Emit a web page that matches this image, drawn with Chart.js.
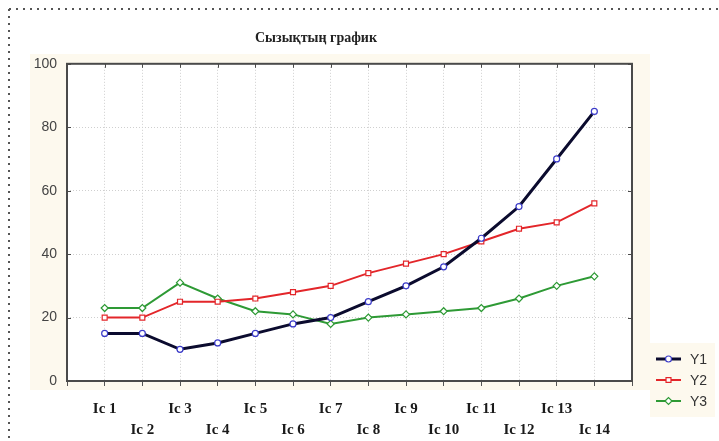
<!DOCTYPE html>
<html>
<head>
<meta charset="utf-8">
<script src="https://cdn.jsdelivr.net/npm/chart.js@4"></script>
<style>
  html, body { margin: 0; padding: 0; background: #fff; }
  canvas { display: block; }
</style>
</head>
<body>
<canvas id="chart" width="719" height="441"></canvas>
<script>
'use strict';

// data
let categories = ['Ic 1', 'Ic 2', 'Ic 3', 'Ic 4', 'Ic 5', 'Ic 6', 'Ic 7', 'Ic 8', 'Ic 9', 'Ic 10', 'Ic 11', 'Ic 12', 'Ic 13', 'Ic 14'];
let y1Values = [15, 15, 10, 12, 15, 18, 20, 25, 30, 36, 45, 55, 70, 85];
let y2Values = [20, 20, 25, 25, 26, 28, 30, 34, 37, 40, 44, 48, 50, 56];
let y3Values = [23, 23, 31, 26, 22, 21, 18, 20, 21, 22, 23, 26, 30, 33];
let yTicks = [0, 20, 40, 60, 80, 100];
let titleText = 'Сызықтың график';

const cream = '#fdf9ee';

function toPoints(values) {
    return values.map((v, i) => ({ x: i + 1, y: v }));
}

let seriesList = [
    { label: 'Y1', data: y1Values, line: '#0b0b2e', point: '#3b3bc8', style: 'circle', width: 3, radius: 3 },
    { label: 'Y2', data: y2Values, line: '#e3262a', point: '#e3262a', style: 'rect', width: 2, radius: 3.5 },
    { label: 'Y3', data: y3Values, line: '#2e9a35', point: '#2e9a35', style: 'rectRot', width: 2, radius: 3.5 }
];

// background, dotted page frame, plot frame
const backdrop = {
    id: 'backdrop',
    beforeDraw(chart) {
        const ctx = chart.ctx;
        const a = chart.chartArea;
        ctx.save();
        ctx.fillStyle = cream;
        ctx.fillRect(30, 54, 620, 336);
        ctx.fillStyle = '#ffffff';
        ctx.fillRect(a.left, a.top, a.right - a.left, a.bottom - a.top);

        ctx.strokeStyle = '#555';
        ctx.lineWidth = 2;
        ctx.setLineDash([2, 5]);
        ctx.beginPath();
        ctx.moveTo(9, 9);
        ctx.lineTo(719, 9);
        ctx.moveTo(9, 9);
        ctx.lineTo(9, 441);
        ctx.stroke();
        ctx.restore();
    },
    beforeDatasetsDraw(chart) {
        const ctx = chart.ctx;
        const a = chart.chartArea;
        ctx.save();
        ctx.strokeStyle = '#4a4a4a';
        ctx.lineWidth = 2;
        ctx.strokeRect(a.left, a.top, a.right - a.left, a.bottom - a.top);
        // small tick marks along the top and right edges
        ctx.lineWidth = 1;
        ctx.beginPath();
        for (let i = 1; i <= categories.length; i++) {
            const x = Math.round(chart.scales.x.getPixelForValue(i)) + 0.5;
            ctx.moveTo(x, a.top);
            ctx.lineTo(x, a.top + 4);
        }
        yTicks.forEach(t => {
            const y = Math.round(chart.scales.y.getPixelForValue(t)) + 0.5;
            ctx.moveTo(a.right, y);
            ctx.lineTo(a.right - 4, y);
            ctx.moveTo(a.left, y);
            ctx.lineTo(a.left + 4, y);
        });
        ctx.stroke();
        ctx.restore();
    }
};

// legend box at lower right
const sideLegend = {
    id: 'sideLegend',
    afterDraw(chart) {
        const ctx = chart.ctx;
        ctx.save();
        ctx.fillStyle = cream;
        ctx.fillRect(650, 343, 65, 74);
        seriesList.forEach((s, i) => {
            const y = 359 + i * 21;
            ctx.strokeStyle = s.line;
            ctx.lineWidth = s.width;
            ctx.beginPath();
            ctx.moveTo(656, y);
            ctx.lineTo(681, y);
            ctx.stroke();
            ctx.lineWidth = 1.2;
            ctx.fillStyle = '#fff';
            ctx.strokeStyle = s.point;
            Chart.helpers.drawPoint(ctx, { pointStyle: s.style, radius: s.radius, rotation: 0, borderWidth: 1.2 }, 668.5, y);
            ctx.fillStyle = '#333';
            ctx.font = '14px "Liberation Sans", Arial, sans-serif';
            ctx.textBaseline = 'middle';
            ctx.fillText(s.label, 690, y + 1);
        });
        ctx.restore();
    }
};

let chartObj = document.getElementById('chart').getContext('2d');

let chart = new Chart(chartObj, {
    type: 'line',
    data: {
        datasets: seriesList.map(s => ({
            label: s.label,
            data: toPoints(s.data),
            borderColor: s.line,
            borderWidth: s.width,
            pointStyle: s.style,
            pointRadius: s.radius,
            pointBorderColor: s.point,
            pointBackgroundColor: '#ffffff',
            pointBorderWidth: 1.2,
            tension: 0
        }))
    },
    options: {
        responsive: false,
        animation: false,
        devicePixelRatio: 1,
        layout: { padding: { top: 0, right: 87, bottom: 0, left: 0 } },
        plugins: {
            legend: { display: false },
            tooltip: { enabled: false },
            title: {
                display: true,
                text: titleText,
                color: '#222',
                font: { family: '"Liberation Serif", "Times New Roman", serif', size: 14, weight: 'bold' },
                padding: { top: 30, bottom: 17 }
            }
        },
        scales: {
            x: {
                type: 'linear',
                min: 0,
                max: 15,
                afterFit(scale) { scale.height = 60; },
                afterBuildTicks(scale) {
                    scale.ticks = [];
                    for (let i = 0; i <= 15; i++) scale.ticks.push({ value: i });
                },
                border: { display: false, dash: [1, 2] },
                grid: {
                    color: ctx => (ctx.tick && ctx.tick.value > 0 && ctx.tick.value < 15) ? '#cfcfcf' : 'rgba(0,0,0,0)',
                    lineWidth: 1,
                    tickLength: 5,
                    tickColor: '#555',
                    drawTicks: true
                },
                ticks: {
                    autoSkip: false,
                    maxRotation: 0,
                    padding: 13,
                    color: '#1a1a1a',
                    font: { family: '"Liberation Serif", "Times New Roman", serif', size: 15, weight: 'bold', lineHeight: 1.4 },
                    callback: function (value) {
                        if (value < 1 || value > categories.length) return '';
                        const name = categories[value - 1];
                        return value % 2 === 1 ? [name, ''] : ['', name];
                    }
                }
            },
            y: {
                min: 0,
                max: 100,
                afterFit(scale) { scale.width = 67; },
                afterBuildTicks(scale) {
                    scale.ticks = yTicks.map(v => ({ value: v }));
                },
                border: { display: false, dash: [1, 2] },
                grid: {
                    color: ctx => (ctx.tick && ctx.tick.value > 0 && ctx.tick.value < 100) ? '#cfcfcf' : 'rgba(0,0,0,0)',
                    tickLength: 4,
                    tickColor: 'rgba(0,0,0,0)'
                },
                ticks: {
                    padding: 6,
                    color: '#444',
                    font: { family: '"Liberation Sans", Arial, sans-serif', size: 14 }
                }
            }
        }
    },
    plugins: [backdrop, sideLegend]
});
</script>
</body>
</html>
